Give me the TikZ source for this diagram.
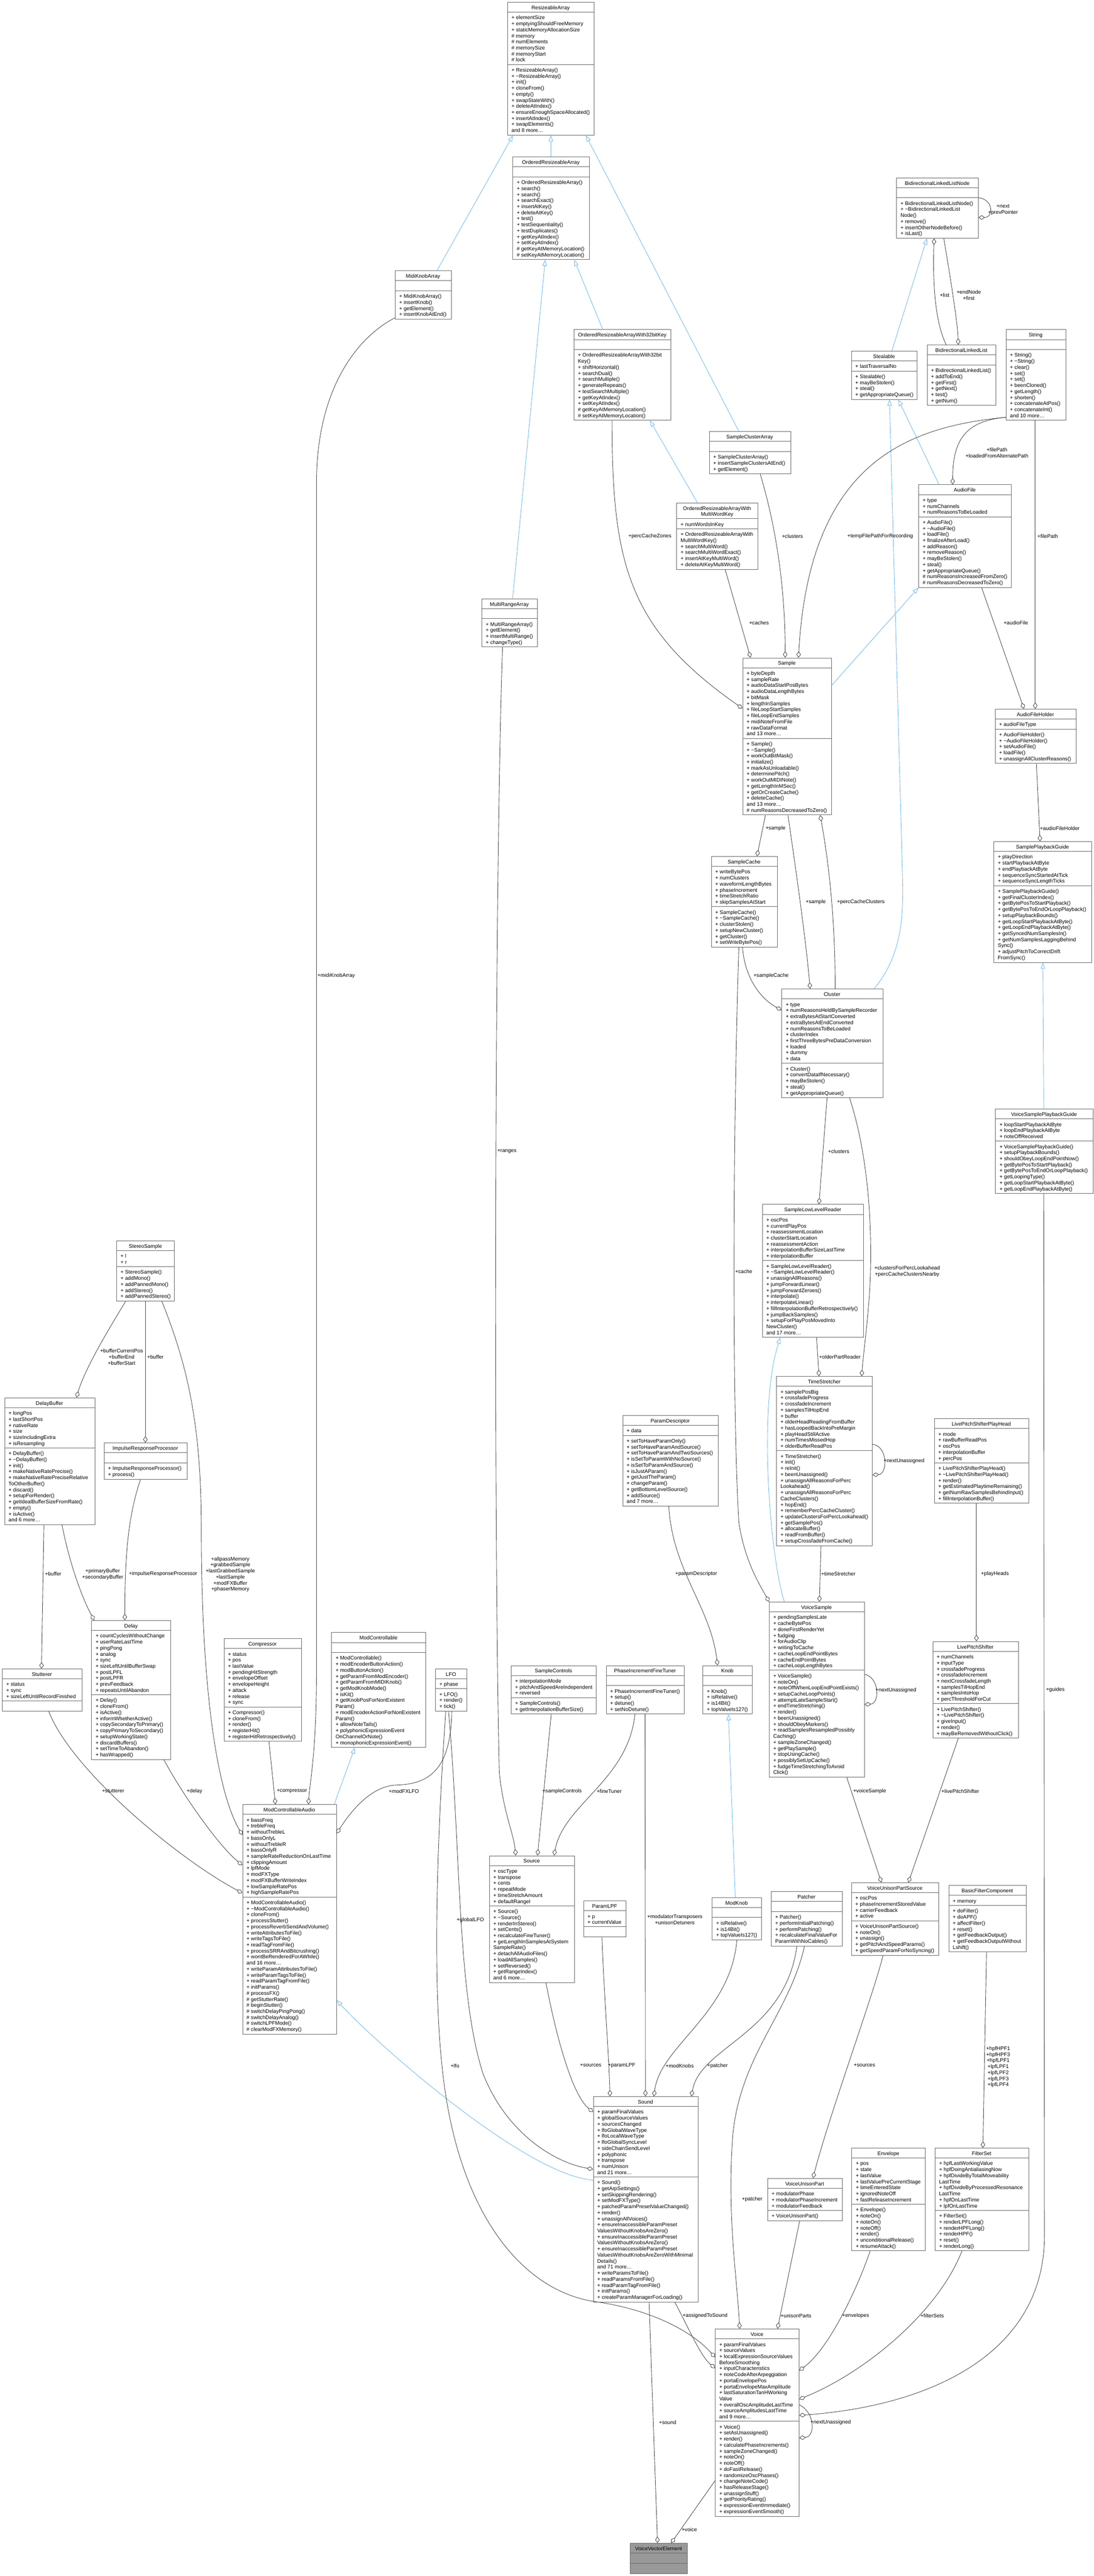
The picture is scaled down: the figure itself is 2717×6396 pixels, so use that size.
\documentclass[tikz,border=0pt]{standalone}
\usepackage{fontspec}
\setmainfont{Liberation Sans}
\usetikzlibrary{arrows.meta,calc}
\definecolor{boxline}{HTML}{666666}
\definecolor{edgec}{HTML}{404040}
\definecolor{inhc}{HTML}{63B8FF}
\definecolor{vvefill}{HTML}{999999}
\newcommand\dfont{\fontsize{6.5pt}{7.5pt}\selectfont}
\newcommand\tld{\textasciitilde}
\def\clsparse#1,#2,#3,#4\relax{\def\clsX{#1}\def\clsY{#2}\def\clsW{#3}\def\clsL{#4}}
\tikzset{
  box/.style={draw=boxline, line width=0.55pt, anchor=north west, inner sep=0pt},
  txt/.style={font=\dfont, inner sep=0pt, text=black},
  agg/.style={draw=edgec, line width=0.55pt, -{Diamond[open,length=8pt,width=5.5pt]}},
  inh/.style={draw=inhc, line width=0.55pt, -{Triangle[open,length=7.5pt,width=5.5pt]}},
  lab/.style={font=\dfont, inner sep=0pt, align=center, text=black},
}
% \cls[fill]{name}{x,y,w,headerlines}{title}{nattr}{attrs}{nmeth}{methods}
\newcommand\cls[8][white]{%
  \clsparse#3\relax
  \pgfmathsetmacro\clsHH{\clsL*15+10}%
  \pgfmathsetmacro\clsHA{#5==0 ? 25 : #5*15+10}%
  \pgfmathsetmacro\clsHM{#7==0 ? 25 : #7*15+10}%
  \pgfmathsetmacro\clsHT{\clsHH+\clsHA+\clsHM}%
  \node[box, fill=#1, minimum width=\clsW*0.5pt, minimum height=\clsHT*0.5pt] (#2) at (\clsX,\clsY) {};
  \draw[boxline, line width=0.55pt] (\clsX,\clsY+\clsHH) -- ++(\clsW,0);
  \draw[boxline, line width=0.55pt] (\clsX,\clsY+\clsHH+\clsHA) -- ++(\clsW,0);
  \node[txt, anchor=north, align=center] (#2-t) at (\clsX+\clsW/2,\clsY+5) {\rule{0pt}{6.5pt}#4};
  \ifnum#5>0 \node[txt, anchor=north west, align=left] (#2-a) at (\clsX+10,\clsY+\clsHH+5) {\rule{0pt}{6.5pt}#6};\fi
  \ifnum#7>0 \node[txt, anchor=north west, align=left] (#2-m) at (\clsX+10,\clsY+\clsHH+\clsHA+5) {\rule{0pt}{6.5pt}#8};\fi
}
\begin{document}
\begin{tikzpicture}[x=0.5pt,y=-0.5pt]
\useasboundingbox (0,0) rectangle (2717,6396);
\fill[white] (0,0) rectangle (2717,6396);

% ---------------- classes ----------------
\cls{ra}{1260,5,215,1}{ResizeableArray}{8}{+ elementSize\\+ emptyingShouldFreeMemory\\+ staticMemoryAllocationSize\\\# memory\\\# numElements\\\# memorySize\\\# memoryStart\\\# lock}{11}{+ ResizeableArray()\\+ \tld ResizeableArray()\\+ init()\\+ cloneFrom()\\+ empty()\\+ swapStateWith()\\+ deleteAtIndex()\\+ ensureEnoughSpaceAllocated()\\+ insertAtIndex()\\+ swapElements()\\and 8 more\dots}
\cls{ora}{1273,389,190,1}{OrderedResizeableArray}{0}{}{13}{+ OrderedResizeableArray()\\+ search()\\+ search()\\+ searchExact()\\+ insertAtKey()\\+ deleteAtKey()\\+ test()\\+ testSequentiality()\\+ testDuplicates()\\+ getKeyAtIndex()\\+ setKeyAtIndex()\\\# getKeyAtMemoryLocation()\\\# setKeyAtMemoryLocation()}
\cls{mka}{981,672,139,1}{MidiKnobArray}{0}{}{4}{+ MidiKnobArray()\\+ insertKnob()\\+ getElement()\\+ insertKnobAtEnd()}
\cls{ora32}{1425,818,241,1}{OrderedResizeableArrayWith32bitKey}{0}{}{11}{+ OrderedResizeableArrayWith32bit\\Key()\\+ shiftHorizontal()\\+ searchDual()\\+ searchMultiple()\\+ generateRepeats()\\+ testSearchMultiple()\\+ getKeyAtIndex()\\+ setKeyAtIndex()\\\# getKeyAtMemoryLocation()\\\# setKeyAtMemoryLocation()}
\cls{blln}{2226,441,203,1}{BidirectionalLinkedListNode}{0}{}{6}{+ BidirectionalLinkedListNode()\\+ \tld BidirectionalLinkedList\\Node()\\+ remove()\\+ insertOtherNodeBefore()\\+ isLast()}
\cls{steal}{2114,871,163,1}{Stealable}{1}{+ lastTraversalNo}{4}{+ Stealable()\\+ mayBeStolen()\\+ steal()\\+ getAppropriateQueue()}
\cls{bll}{2302,856,171,1}{BidirectionalLinkedList}{0}{}{6}{+ BidirectionalLinkedList()\\+ addToEnd()\\+ getFirst()\\+ getNext()\\+ test()\\+ getNum()}
\cls{str}{2498,818,148,1}{String}{0}{}{11}{+ String()\\+ \tld String()\\+ clear()\\+ set()\\+ set()\\+ beenCloned()\\+ getLength()\\+ shorten()\\+ concatenateAtPos()\\+ concatenateInt()\\and 10 more\dots}
\cls{sca}{1761,1071,202,1}{SampleClusterArray}{0}{}{3}{+ SampleClusterArray()\\+ insertSampleClustersAtEnd()\\+ getElement()}
\cls{oramw}{1680,1248,202,2}{OrderedResizeableArrayWith\\MultiWordKey}{1}{+ numWordsInKey}{6}{+ OrderedResizeableArrayWith\\MultiWordKey()\\+ searchMultiWord()\\+ searchMultiWordExact()\\+ insertAtKeyMultiWord()\\+ deleteAtKeyMultiWord()}
\cls{af}{2281,1203,230,1}{AudioFile}{3}{+ type\\+ numChannels\\+ numReasonsToBeLoaded}{11}{+ AudioFile()\\+ \tld AudioFile()\\+ loadFile()\\+ finalizeAfterLoad()\\+ addReason()\\+ removeReason()\\+ mayBeStolen()\\+ steal()\\+ getAppropriateQueue()\\\# numReasonsIncreasedFromZero()\\\# numReasonsDecreasedToZero()}
\cls{smp}{1844,1633,220,1}{Sample}{11}{+ byteDepth\\+ sampleRate\\+ audioDataStartPosBytes\\+ audioDataLengthBytes\\+ bitMask\\+ lengthInSamples\\+ fileLoopStartSamples\\+ fileLoopEndSamples\\+ midiNoteFromFile\\+ rawDataFormat\\and 13 more\dots}{12}{+ Sample()\\+ \tld Sample()\\+ workOutBitMask()\\+ initialize()\\+ markAsUnloadable()\\+ determinePitch()\\+ workOutMIDINote()\\+ getLengthInMSec()\\+ getOrCreateCache()\\+ deleteCache()\\and 13 more\dots\\\# numReasonsDecreasedToZero()}
\cls{afh}{2471,1760,201,1}{AudioFileHolder}{1}{+ audioFileType}{5}{+ AudioFileHolder()\\+ \tld AudioFileHolder()\\+ setAudioFile()\\+ loadFile()\\+ unassignAllClusterReasons()}
\cls{mra}{1196,1486,138,1}{MultiRangeArray}{0}{}{4}{+ MultiRangeArray()\\+ getElement()\\+ insertMultiRange()\\+ changeType()}
\cls{sc}{1766,2126,164,1}{SampleCache}{6}{+ writeBytePos\\+ numClusters\\+ waveformLengthBytes\\+ phaseIncrement\\+ timeStretchRatio\\+ skipSamplesAtStart}{6}{+ SampleCache()\\+ \tld SampleCache()\\+ clusterStolen()\\+ setupNewCluster()\\+ getCluster()\\+ setWriteBytePos()}
\cls{spg}{2468,2089,242,1}{SamplePlaybackGuide}{5}{+ playDirection\\+ startPlaybackAtByte\\+ endPlaybackAtByte\\+ sequenceSyncStartedAtTick\\+ sequenceSyncLengthTicks}{12}{+ SamplePlaybackGuide()\\+ getFinalClusterIndex()\\+ getBytePosToStartPlayback()\\+ getBytePosToEndOrLoopPlayback()\\+ setupPlaybackBounds()\\+ getLoopStartPlaybackAtByte()\\+ getLoopEndPlaybackAtByte()\\+ getSyncedNumSamplesIn()\\+ getNumSamplesLaggingBehind\\Sync()\\+ adjustPitchToCorrectDrift\\FromSync()}
\cls{cl}{1941,2455,251,1}{Cluster}{10}{+ type\\+ numReasonsHeldBySampleRecorder\\+ extraBytesAtStartConverted\\+ extraBytesAtEndConverted\\+ numReasonsToBeLoaded\\+ clusterIndex\\+ firstThreeBytesPreDataConversion\\+ loaded\\+ dummy\\+ data}{5}{+ Cluster()\\+ convertDataIfNecessary()\\+ mayBeStolen()\\+ steal()\\+ getAppropriateQueue()}
\cls{vspg}{2472,2753,242,1}{VoiceSamplePlaybackGuide}{3}{+ loopStartPlaybackAtByte\\+ loopEndPlaybackAtByte\\+ noteOffReceived}{8}{+ VoiceSamplePlaybackGuide()\\+ setupPlaybackBounds()\\+ shouldObeyLoopEndPointNow()\\+ getBytePosToStartPlayback()\\+ getBytePosToEndOrLoopPlayback()\\+ getLoopingType()\\+ getLoopStartPlaybackAtByte()\\+ getLoopEndPlaybackAtByte()}
\cls{sllr}{1893,2990,251,1}{SampleLowLevelReader}{7}{+ oscPos\\+ currentPlayPos\\+ reassessmentLocation\\+ clusterStartLocation\\+ reassessmentAction\\+ interpolationBufferSizeLastTime\\+ interpolationBuffer}{12}{+ SampleLowLevelReader()\\+ \tld SampleLowLevelReader()\\+ unassignAllReasons()\\+ jumpForwardLinear()\\+ jumpForwardZeroes()\\+ interpolate()\\+ interpolateLinear()\\+ fillInterpolationBufferRetrospectively()\\+ jumpBackSamples()\\+ setupForPlayPosMovedInto\\NewCluster()\\and 17 more\dots}
\cls{ts}{1928,3417,238,1}{TimeStretcher}{10}{+ samplePosBig\\+ crossfadeProgress\\+ crossfadeIncrement\\+ samplesTilHopEnd\\+ buffer\\+ olderHeadReadingFromBuffer\\+ hasLoopedBackIntoPreMargin\\+ playHeadStillActive\\+ numTimesMissedHop\\+ olderBufferReadPos}{15}{+ TimeStretcher()\\+ init()\\+ reInit()\\+ beenUnassigned()\\+ unassignAllReasonsForPerc\\Lookahead()\\+ unassignAllReasonsForPerc\\CacheClusters()\\+ hopEnd()\\+ rememberPercCacheCluster()\\+ updateClustersForPercLookahead()\\+ getSamplePos()\\+ allocateBuffer()\\+ readFromBuffer()\\+ setupCrossfadeFromCache()}
\cls{pd}{1546,3514,237,1}{ParamDescriptor}{1}{+ data}{11}{+ setToHaveParamOnly()\\+ setToHaveParamAndSource()\\+ setToHaveParamAndTwoSources()\\+ isSetToParamWithNoSource()\\+ isSetToParamAndSource()\\+ isJustAParam()\\+ getJustTheParam()\\+ changeParam()\\+ getBottomLevelSource()\\+ addSource()\\and 7 more\dots}
\cls{lpsph}{2320,3522,234,1}{LivePitchShifterPlayHead}{5}{+ mode\\+ rawBufferReadPos\\+ oscPos\\+ interpolationBuffer\\+ percPos}{6}{+ LivePitchShifterPlayHead()\\+ \tld LivePitchShifterPlayHead()\\+ render()\\+ getEstimatedPlaytimeRemaining()\\+ getNumRawSamplesBehindInput()\\+ fillInterpolationBuffer()}
\cls{ss}{289,3080,144,1}{StereoSample}{2}{+ l\\+ r}{5}{+ StereoSample()\\+ addMono()\\+ addPannedMono()\\+ addStereo()\\+ addPannedStereo()}
\cls{db}{11,3470,224,1}{DelayBuffer}{6}{+ longPos\\+ lastShortPos\\+ nativeRate\\+ size\\+ sizeIncludingExtra\\+ isResampling}{12}{+ DelayBuffer()\\+ \tld DelayBuffer()\\+ init()\\+ makeNativeRatePrecise()\\+ makeNativeRatePreciseRelative\\ToOtherBuffer()\\+ discard()\\+ setupForRender()\\+ getIdealBufferSizeFromRate()\\+ empty()\\+ isActive()\\and 6 more\dots}
\cls{irp}{258,3582,206,1}{ImpulseResponseProcessor}{0}{}{2}{+ ImpulseResponseProcessor()\\+ process()}
\cls{dl}{227,4023,197,1}{Delay}{10}{+ countCyclesWithoutChange\\+ userRateLastTime\\+ pingPong\\+ analog\\+ sync\\+ sizeLeftUntilBufferSwap\\+ postLPFL\\+ postLPFR\\+ prevFeedback\\+ repeatsUntilAbandon}{10}{+ Delay()\\+ cloneFrom()\\+ isActive()\\+ informWhetherActive()\\+ copySecondaryToPrimary()\\+ copyPrimaryToSecondary()\\+ setupWorkingState()\\+ discardBuffers()\\+ setTimeToAbandon()\\+ hasWrapped()}
\cls{stu}{5,4143,198,1}{Stutterer}{3}{+ status\\+ sync\\+ sizeLeftUntilRecordFinished}{0}{}
\cls{cmp}{556,4068,192,1}{Compressor}{9}{+ status\\+ pos\\+ lastValue\\+ pendingHitStrength\\+ envelopeOffset\\+ envelopeHeight\\+ attack\\+ release\\+ sync}{5}{+ Compressor()\\+ cloneFrom()\\+ render()\\+ registerHit()\\+ registerHitRetrospectively()}
\cls{mc}{823,4053,234,1}{ModControllable}{0}{}{15}{+ ModControllable()\\+ modEncoderButtonAction()\\+ modButtonAction()\\+ getParamFromModEncoder()\\+ getParamFromMIDIKnob()\\+ getModKnobMode()\\+ isKit()\\+ getKnobPosForNonExistent\\Param()\\+ modEncoderActionForNonExistent\\Param()\\+ allowNoteTails()\\+ polyphonicExpressionEvent\\OnChannelOrNote()\\+ monophonicExpressionEvent()}
\cls{lfo}{1081,4143,78,1}{LFO}{1}{+ phase}{3}{+ LFO()\\+ render()\\+ tick()}
\cls{sctl}{1269,4135,211,1}{SampleControls}{3}{+ interpolationMode\\+ pitchAndSpeedAreIndependent\\+ reversed}{2}{+ SampleControls()\\+ getInterpolationBufferSize()}
\cls{pift}{1505,4135,194,1}{PhaseIncrementFineTuner}{0}{}{4}{+ PhaseIncrementFineTuner()\\+ setup()\\+ detune()\\+ setNoDetune()}
\cls{knob}{1745,4135,123,1}{Knob}{0}{}{4}{+ Knob()\\+ isRelative()\\+ is14Bit()\\+ topValueIs127()}
\cls{vs}{1910,3977,236,1}{VoiceSample}{9}{+ pendingSamplesLate\\+ cacheBytePos\\+ doneFirstRenderYet\\+ fudging\\+ forAudioClip\\+ writingToCache\\+ cacheLoopEndPointBytes\\+ cacheEndPointBytes\\+ cacheLoopLengthBytes}{17}{+ VoiceSample()\\+ noteOn()\\+ noteOffWhenLoopEndPointExists()\\+ setupCacheLoopPoints()\\+ attemptLateSampleStart()\\+ endTimeStretching()\\+ render()\\+ beenUnassigned()\\+ shouldObeyMarkers()\\+ readSamplesResampledPossibly\\Caching()\\+ sampleZoneChanged()\\+ getPlaySample()\\+ stopUsingCache()\\+ possiblySetUpCache()\\+ fudgeTimeStretchingToAvoid\\Click()}
\cls{lps}{2316,4075,213,1}{LivePitchShifter}{8}{+ numChannels\\+ inputType\\+ crossfadeProgress\\+ crossfadeIncrement\\+ nextCrossfadeLength\\+ samplesTilHopEnd\\+ samplesIntoHop\\+ percThresholdForCut}{5}{+ LivePitchShifter()\\+ \tld LivePitchShifter()\\+ giveInput()\\+ render()\\+ mayBeRemovedWithoutClick()}
\cls{mca}{602,4480,233,1}{ModControllableAudio}{13}{+ bassFreq\\+ trebleFreq\\+ withoutTrebleL\\+ bassOnlyL\\+ withoutTrebleR\\+ bassOnlyR\\+ sampleRateReductionOnLastTime\\+ clippingAmount\\+ lpfMode\\+ modFXType\\+ modFXBufferWriteIndex\\+ lowSampleRatePos\\+ highSampleRatePos}{22}{+ ModControllableAudio()\\+ \tld ModControllableAudio()\\+ cloneFrom()\\+ processStutter()\\+ processReverbSendAndVolume()\\+ writeAttributesToFile()\\+ writeTagsToFile()\\+ readTagFromFile()\\+ processSRRAndBitcrushing()\\+ wontBeRenderedForAWhile()\\and 16 more\dots\\+ writeParamAttributesToFile()\\+ writeParamTagsToFile()\\+ readParamTagFromFile()\\+ initParams()\\\# processFX()\\\# getStutterRate()\\\# beginStutter()\\\# switchDelayPingPong()\\\# switchDelayAnalog()\\\# switchLPFMode()\\\# clearModFXMemory()}
\cls{src}{1215,4607,211,1}{Source}{6}{+ oscType\\+ transpose\\+ cents\\+ repeatMode\\+ timeStretchAmount\\+ defaultRangeI}{12}{+ Source()\\+ \tld Source()\\+ renderInStereo()\\+ setCents()\\+ recalculateFineTuner()\\+ getLengthInSamplesAtSystem\\SampleRate()\\+ detachAllAudioFiles()\\+ loadAllSamples()\\+ setReversed()\\+ getRangeIndex()\\and 6 more\dots}
\cls{plpf}{1449,4719,105,1}{ParamLPF}{2}{+ p\\+ currentValue}{0}{}
\cls{mk}{1768,4711,123,1}{ModKnob}{0}{}{3}{+ isRelative()\\+ is14Bit()\\+ topValueIs127()}
\cls{pat}{1915,4696,176,1}{Patcher}{0}{}{5}{+ Patcher()\\+ performInitialPatching()\\+ performPatching()\\+ recalculateFinalValueFor\\ParamWithNoCables()}
\cls{vups}{2114,4674,217,1}{VoiceUnisonPartSource}{4}{+ oscPos\\+ phaseIncrementStoredValue\\+ carrierFeedback\\+ active}{5}{+ VoiceUnisonPartSource()\\+ noteOn()\\+ unassign()\\+ getPitchAndSpeedParams()\\+ getSpeedParamForNoSyncing()}
\cls{bfc}{2356,4681,192,1}{BasicFilterComponent}{1}{+ memory}{7}{+ doFilter()\\+ doAPF()\\+ affectFilter()\\+ reset()\\+ getFeedbackOutput()\\+ getFeedbackOutputWithout\\Lshift()}
\cls{snd}{1473,5205,260,1}{Sound}{11}{+ paramFinalValues\\+ globalSourceValues\\+ sourcesChanged\\+ lfoGlobalWaveType\\+ lfoLocalWaveType\\+ lfoGlobalSyncLevel\\+ sideChainSendLevel\\+ polyphonic\\+ transpose\\+ numUnison\\and 21 more\dots}{20}{+ Sound()\\+ getArpSettings()\\+ setSkippingRendering()\\+ setModFXType()\\+ patchedParamPresetValueChanged()\\+ render()\\+ unassignAllVoices()\\+ ensureInaccessibleParamPreset\\ValuesWithoutKnobsAreZero()\\+ ensureInaccessibleParamPreset\\ValuesWithoutKnobsAreZero()\\+ ensureInaccessibleParamPreset\\ValuesWithoutKnobsAreZeroWithMinimal\\Details()\\and 71 more\dots\\+ writeParamsToFile()\\+ readParamsFromFile()\\+ readParamTagFromFile()\\+ initParams()\\+ createParamManagerForLoading()}
\cls{vup}{1906,5408,185,1}{VoiceUnisonPart}{3}{+ modulatorPhase\\+ modulatorPhaseIncrement\\+ modulatorFeedback}{1}{+ VoiceUnisonPart()}
\cls{env}{2115,5333,183,1}{Envelope}{7}{+ pos\\+ state\\+ lastValue\\+ lastValuePreCurrentStage\\+ timeEnteredState\\+ ignoredNoteOff\\+ fastReleaseIncrement}{7}{+ Envelope()\\+ noteOn()\\+ noteOn()\\+ noteOff()\\+ render()\\+ unconditionalRelease()\\+ resumeAttack()}
\cls{fs}{2322,5333,232,1}{FilterSet}{8}{+ hpfLastWorkingValue\\+ hpfDoingAntialiasingNow\\+ hpfDivideByTotalMoveability\\LastTime\\+ hpfDivideByProcessedResonance\\LastTime\\+ hpfOnLastTime\\+ lpfOnLastTime}{6}{+ FilterSet()\\+ renderLPFLong()\\+ renderHPFLong()\\+ renderHPF()\\+ reset()\\+ renderLong()}
\cls{vc}{1776,5782,208,1}{Voice}{13}{+ paramFinalValues\\+ sourceValues\\+ localExpressionSourceValues\\BeforeSmoothing\\+ inputCharacteristics\\+ noteCodeAfterArpeggiation\\+ portaEnvelopePos\\+ portaEnvelopeMaxAmplitude\\+ lastSaturationTanHWorking\\Value\\+ overallOscAmplitudeLastTime\\+ sourceAmplitudesLastTime\\and 9 more\dots}{15}{+ Voice()\\+ setAsUnassigned()\\+ render()\\+ calculatePhaseIncrements()\\+ sampleZoneChanged()\\+ noteOn()\\+ noteOff()\\+ doFastRelease()\\+ randomizeOscPhases()\\+ changeNoteCode()\\+ hasReleaseStage()\\+ unassignStuff()\\+ getPriorityRating()\\+ expressionEventImmediate()\\+ expressionEventSmooth()}
\cls[vvefill]{vve}{1565,6314,141,1}{VoiceVectorElement}{0}{}{0}{}

% ---------------- inheritance ----------------
\draw[inh] ($(mka.north west)+(104,0)$) -- ($(ra.south west)+(14,0)$);
\draw[inh] ($(ora.north west)+(95,0)$) -- ($(ra.south west)+(108,0)$);
\draw[inh] ($(sca.north west)+(74,0)$) -- ($(ra.south west)+(195,0)$);
\draw[inh] ($(mra.north west)+(77,0)$) -- ($(ora.south west)+(81,0)$);
\draw[inh] ($(ora32.north west)+(72,0)$) -- ($(ora.south west)+(153,0)$);
\draw[inh] ($(oramw.north west)+(52,0)$) -- ($(ora32.south west)+(189,0)$);
\draw[inh] ($(steal.north west)+(101,0)$) -- ($(blln.south west)+(76,0)$);
\draw[inh] ($(af.north west)+(51,0)$) -- ($(steal.south west)+(117,0)$);
\draw[inh] ($(cl.north west)+(230,0)$) .. controls (2232,2380) and (2243,2300) .. (2242,2200) -- ($(steal.south west)+(95,0)$);
\draw[inh] ($(smp.north east)+(0,69)$) -- (af.south west);
\draw[inh] ($(vspg.north west)+(120,0)$) -- ($(spg.south west)+(122,0)$);
\draw[inh] ($(vs.north west)+(38,0)$) .. controls (1915,3880) and (1880,3500) .. ($(sllr.south west)+(45,0)$);
\draw[inh] ($(mca.north west)+(228,0)$) -- ($(mc.south west)+(58,0)$);
\draw[inh] ($(snd.north west)+(0,208)$) .. controls (1300,5400) and (920,5060) .. ($(mca.north east)+(0,486)$);
\draw[inh] ($(mk.north west)+(58,0)$) -- ($(knob.south west)+(64,0)$);

% ---------------- aggregation ----------------
\draw[agg] ($(str.south west)+(0,-8)$) .. controls (2250,1060) and (2010,1150) .. ($(smp.north west)+(139,0)$);
\draw[agg] ($(str.south west)+(0,-8)$) .. controls (2400,1045) and (2366,1090) .. ($(af.north west)+(85,0)$);
\draw[agg] ($(str.south west)+(73,0)$) -- ($(afh.north west)+(100,0)$);
\draw[agg] ($(sca.south west)+(127,0)$) .. controls (1925,1300) and (1950,1450) .. ($(smp.north west)+(106,0)$);
\draw[agg] ($(oramw.south west)+(121,0)$) -- ($(smp.north west)+(20,0)$);
\draw[agg] ($(ora32.south west)+(95,0)$) .. controls (1520,1400) and (1560,1560) .. ($(smp.north west)+(0,126)$);
\draw[agg] ($(af.south west)+(157,0)$) -- ($(afh.north west)+(72,0)$);
\draw[agg] ($(afh.south west)+(103,0)$) -- ($(spg.north west)+(115,0)$);
\draw[agg] ($(smp.south west)+(57,0)$) -- ($(sc.north west)+(114,0)$);
\draw[agg] ($(smp.south west)+(113,0)$) .. controls (1975,2150) and (2000,2320) .. ($(cl.north west)+(71,0)$);
\draw[agg] ($(cl.north west)+(133,0)$) .. controls (2075,2300) and (2060,2150) .. ($(smp.south west)+(193,0)$);
\draw[agg] ($(sc.south west)+(78,0)$) .. controls (1850,2430) and (1890,2480) .. ($(cl.north west)+(0,53)$);
\draw[agg] ($(sc.south west)+(69,0)$) .. controls (1820,2800) and (1818,3500) .. (1835,3780) .. controls (1850,3880) and (1890,3940) .. (vs.north west);
\draw[agg] ($(cl.south west)+(113,0)$) -- ($(sllr.north west)+(141,0)$);
\draw[agg] ($(cl.south west)+(169,0)$) .. controls (2150,2850) and (2165,3000) .. (2162,3150) .. controls (2160,3250) and (2145,3350) .. ($(ts.north west)+(212,0)$);
\draw[agg] ($(sllr.south west)+(135,0)$) -- ($(ts.north west)+(106,0)$);
\draw[agg] ($(ts.north east)+(0,169)$) .. controls (2205,3590) and (2205,3660) .. ($(ts.north east)+(0,245)$);
\draw[agg] ($(ts.south west)+(111,0)$) -- ($(vs.north west)+(125,0)$);
\draw[agg] ($(vs.north east)+(0,180)$) .. controls (2185,4165) and (2185,4230) .. ($(vs.north east)+(0,255)$);
\draw[agg] ($(vs.south west)+(193,0)$) -- ($(vups.north west)+(75,0)$);
\draw[agg] ($(lps.south west)+(64,0)$) -- ($(vups.north west)+(142,0)$);
\draw[agg] ($(lpsph.south west)+(105,0)$) -- ($(lps.north west)+(109,0)$);
\draw[agg] ($(pd.south west)+(115,0)$) .. controls (1670,3900) and (1765,3990) .. ($(knob.north west)+(37,0)$);
\draw[agg] ($(sctl.south west)+(100,0)$) -- ($(src.north west)+(120,0)$);
\draw[agg] ($(pift.south west)+(72,0)$) .. controls (1560,4420) and (1400,4480) .. ($(src.north west)+(161,0)$);
\draw[agg] ($(pift.south west)+(97,0)$) -- ($(snd.north west)+(130,0)$);
\draw[agg] ($(mra.south west)+(52,0)$) .. controls (1228,2200) and (1226,3800) .. (1240,4400) .. controls (1250,4500) and (1275,4550) .. ($(src.north west)+(66,0)$);
\draw[agg] ($(src.south west)+(141,0)$) .. controls (1380,5050) and (1420,5200) .. ($(snd.north west)+(0,39)$);
\draw[agg] ($(plpf.south west)+(46,0)$) .. controls (1500,4950) and (1512,5100) .. ($(snd.north west)+(42,0)$);
\draw[agg] ($(mk.south west)+(62,0)$) .. controls (1815,5000) and (1640,5080) .. ($(snd.north west)+(151,0)$);
\draw[agg] ($(pat.south west)+(64,0)$) .. controls (1950,5050) and (1740,5080) .. ($(snd.north west)+(244,0)$);
\draw[agg] ($(pat.south west)+(83,0)$) .. controls (1960,5000) and (1840,5100) .. (1820,5300) .. controls (1805,5500) and (1830,5650) .. ($(vc.north west)+(61,0)$);
\draw[agg] ($(vups.south west)+(79,0)$) .. controls (2170,4950) and (2060,5250) .. ($(vup.north west)+(113,0)$);
\draw[agg] ($(vup.south west)+(80,0)$) -- ($(vc.north west)+(155,0)$);
\draw[agg] ($(bfc.south west)+(94,0)$) -- ($(fs.north west)+(119,0)$);
\draw[agg] ($(env.south west)+(46,0)$) .. controls (2130,5680) and (2060,5830) .. ($(vc.north east)+(0,104)$);
\draw[agg] ($(fs.south west)+(67,0)$) .. controls (2330,5740) and (2150,5890) .. ($(vc.north east)+(0,175)$);
\draw[agg] ($(vspg.south west)+(120,0)$) -- (2594,5550) .. controls (2594,5850) and (2300,5975) .. ($(vc.north east)+(0,215)$);
\draw[agg] ($(vc.north east)+(0,189)$) .. controls (2025,5990) and (2025,6050) .. ($(vc.north east)+(0,271)$);
\draw[agg] ($(snd.south west)+(139,0)$) -- ($(vve.north west)+(68,0)$);
\draw[agg] ($(vc.north west)+(0,377)$) -- ($(vve.north west)+(102,0)$);
\draw[agg] ($(snd.south west)+(203,0)$) .. controls (1710,5780) and (1740,5850) .. ($(vc.north west)+(0,98)$);
\draw[agg] ($(lfo.south west)+(26,0)$) .. controls (1090,4500) and (1070,4900) .. (1100,5150) .. controls (1140,5500) and (1300,5690) .. (1480,5715) .. controls (1620,5735) and (1720,5790) .. ($(vc.north west)+(0,71)$);
\draw[agg] ($(lfo.south west)+(41,0)$) .. controls (1120,4400) and (1060,4430) .. (985,4432) .. controls (920,4434) and (870,4500) .. ($(mca.north east)+(0,72)$);
\draw[agg] ($(lfo.south west)+(33,0)$) .. controls (1145,4600) and (1135,4950) .. (1200,5150) .. controls (1260,5300) and (1380,5370) .. ($(snd.north west)+(0,181)$);
\draw[agg] ($(stu.south west)+(116,0)$) .. controls (180,4400) and (450,4620) .. ($(mca.north west)+(0,220)$);
\draw[agg] ($(dl.south west)+(180,0)$) .. controls (450,4450) and (540,4580) .. ($(mca.north west)+(0,151)$);
\draw[agg] ($(cmp.south west)+(112,0)$) -- ($(mca.north west)+(82,0)$);
\draw[agg] ($(ss.south west)+(113,0)$) .. controls (470,3400) and (500,3550) .. (500,3800) .. controls (500,4200) and (540,4450) .. ($(mca.north west)+(0,76)$);
\draw[agg] ($(mka.south west)+(0,-4)$) .. controls (900,830) and (786,950) .. (786,1200) -- (786,4150) .. controls (786,4350) and (770,4420) .. ($(mca.north west)+(164,0)$);
\draw[agg] ($(ss.south west)+(23,0)$) .. controls (270,3300) and (210,3400) .. ($(db.north west)+(179,0)$);
\draw[agg] ($(ss.south west)+(72,0)$) -- ($(irp.north west)+(103,0)$);
\draw[agg] ($(db.south west)+(98,0)$) -- ($(stu.north west)+(98,0)$);
\draw[agg] ($(db.south west)+(143,0)$) .. controls (170,3870) and (200,3960) .. ($(dl.north west)+(7,0)$);
\draw[agg] ($(irp.south west)+(91,0)$) .. controls (320,3760) and (310,3850) .. ($(dl.north west)+(83,0)$);
\draw[agg] ($(blln.north east)+(0,50)$) .. controls (2468,495) and (2468,540) .. ($(blln.north east)+(0,99)$);
\draw[agg] ($(bll.north west)+(48,0)$) .. controls (2322,800) and (2316,700) .. ($(blln.south west)+(94,0)$);
\draw[agg] ($(blln.south west)+(118,0)$) .. controls (2362,700) and (2378,800) .. ($(bll.north west)+(78,0)$);

% ---------------- labels ----------------
\node[lab] (l1) at (2186,1332) {+tempFilePathForRecording};
\node[lab] (l2) at (2476,1124) {+filePath\\+loadedFromAlternatePath};
\node[lab] (l3) at (2602,1332) {+filePath};
\node[lab] (l4) at (1968,1332) {+clusters};
\node[lab] (l5) at (1885,1547) {+caches};
\node[lab] (l6) at (1614,1331) {+percCacheZones};
\node[lab] (l7) at (2523,1547) {+audioFile};
\node[lab] (l8) at (2632,2057) {+audioFileHolder};
\node[lab] (l9) at (1926,2057) {+sample};
\node[lab] (l10) at (2026,2240) {+sample};
\node[lab] (l11) at (2138,2240) {+percCacheClusters};
\node[lab] (l12) at (1915,2423) {+sampleCache};
\node[lab] (l13) at (1847,3157) {+cache};
\node[lab] (l14) at (2083,2859) {+clusters};
\node[lab] (l15) at (2253,3157) {+clustersForPercLookahead\\+percCacheClustersNearby};
\node[lab] (l16) at (2086,3369) {+olderPartReader};
\node[lab] (l17) at (2245,3628) {+nextUnassigned};
\node[lab] (l18) at (2082,3908) {+timeStretcher};
\node[lab] (l19) at (2225,4197) {+nextUnassigned};
\node[lab] (l20) at (2160,4447) {+voiceSample};
\node[lab] (l21) at (2385,4447) {+livePitchShifter};
\node[lab] (l22) at (2471,3908) {+playHeads};
\node[lab] (l23) at (1729,3908) {+paramDescriptor};
\node[lab] (l24) at (1396,4447) {+sampleControls};
\node[lab] (l25) at (1513,4447) {+fineTuner};
\node[lab] (l26) at (1676,4766) {+modulatorTransposers\\+unisonDetuners};
\node[lab] (l27) at (1259,2859) {+ranges};
\node[lab] (l28) at (1467,5128) {+sources};
\node[lab] (l29) at (1544,5128) {+paramLPF};
\node[lab] (l30) at (1688,5129) {+modKnobs};
\node[lab] (l31) at (1782,5129) {+patcher};
\node[lab] (l32) at (1868,5461) {+patcher};
\node[lab] (l33) at (2147,5128) {+sources};
\node[lab] (l34) at (1977,5750) {+unisonParts};
\node[lab] (l35) at (2479,5132) {+hpfHPF1\\+hpfHPF3\\+hpfLPF1\\+lpfLPF1\\+lpfLPF2\\+lpfLPF3\\+lpfLPF4};
\node[lab] (l36) at (2125,5750) {+envelopes};
\node[lab] (l37) at (2315,5750) {+filterSets};
\node[lab] (l38) at (2621,4196) {+guides};
\node[lab] (l39) at (2063,6015) {+nextUnassigned};
\node[lab] (l40) at (1658,6015) {+sound};
\node[lab] (l41) at (1712,6281) {+voice};
\node[lab] (l42) at (1751,5750) {+assignedToSound};
\node[lab] (l43) at (1130,5129) {+lfo};
\node[lab] (l44) at (1003,4447) {+modFXLFO};
\node[lab] (l45) at (1168,4767) {+globalLFO};
\node[lab] (l47) at (281,4447) {+stutterer};
\node[lab] (l48) at (483,4447) {+delay};
\node[lab] (l49) at (725,4447) {+compressor};
\node[lab] (l50) at (572,3909) {+allpassMemory\\+grabbedSample\\+lastGrabbedSample\\+lastSample\\+modFXBuffer\\+phaserMemory};
\node[lab] (l51) at (835,2422) {+midiKnobArray};
\node[lab] (l52) at (302,3369) {+bufferCurrentPos\\+bufferEnd\\+bufferStart};
\node[lab] (l53) at (386,3369) {+buffer};
\node[lab] (l54) at (132,3908) {+buffer};
\node[lab] (l55) at (255,3909) {+primaryBuffer\\+secondaryBuffer};
\node[lab] (l56) at (405,3908) {+impulseResponseProcessor};
\node[lab] (l57) at (2491,521) {+next\\+prevPointer};
\node[lab] (l58) at (2346,733) {+list};
\node[lab] (l59) at (2406,733) {+endNode\\+first};
\end{tikzpicture}
\end{document}
